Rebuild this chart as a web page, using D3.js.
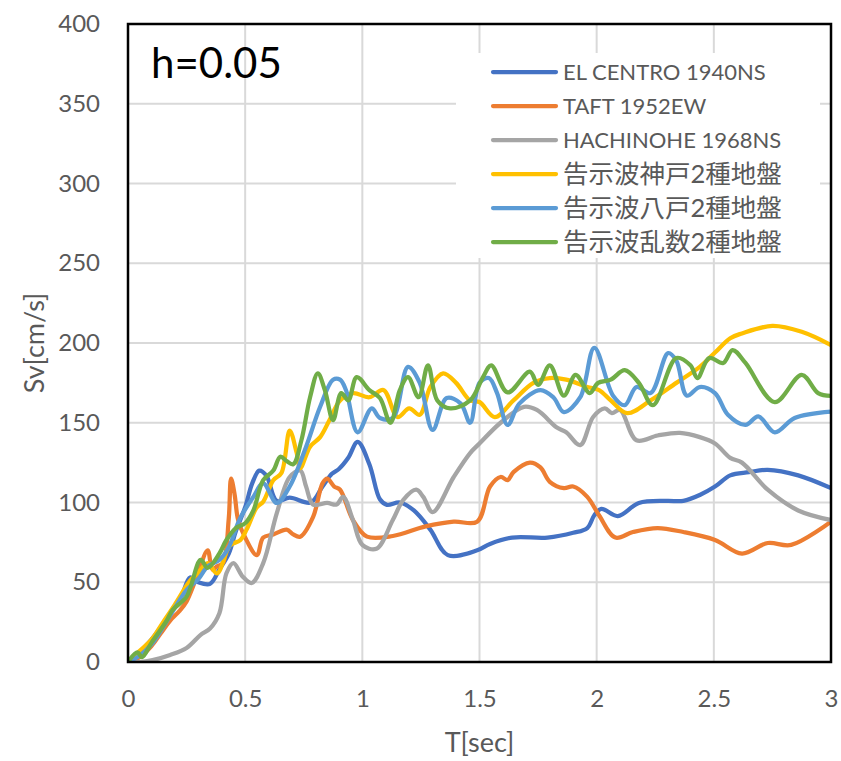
<!DOCTYPE html>
<html>
<head>
<meta charset="utf-8">
<script src="https://cdn.jsdelivr.net/npm/d3@7"></script>
<style>
  html, body { margin: 0; padding: 0; background: #fff; }
  svg { display: block; }
</style>
</head>
<body>
<div id="chart"></div>
<script>
// Velocity response spectra, damping h = 0.05
const elCentroT  = [0, 0.05, 0.1, 0.15, 0.19, 0.23, 0.265, 0.3, 0.35, 0.39, 0.43, 0.46, 0.5, 0.53, 0.56, 0.59, 0.635, 0.69, 0.78, 0.83, 0.87, 0.9, 0.94, 0.98, 1.03, 1.075, 1.105, 1.16, 1.22, 1.29, 1.365, 1.49, 1.545, 1.64, 1.79, 1.9, 1.96, 1.99, 2.02, 2.09, 2.18, 2.3, 2.37, 2.44, 2.505, 2.57, 2.65, 2.73, 2.86, 3.0];
const elCentroSv = [0, 6, 14, 24, 33, 42, 53, 50, 49, 58, 68, 82, 97, 112, 120, 117, 101, 103, 100, 110, 118, 121, 128, 138, 124, 102, 98.5, 100, 95, 83, 67, 70, 74, 78, 78, 81, 84, 92, 96, 91.5, 99.7, 101, 101, 104.7, 110, 117, 119, 120.5, 117, 109];

const taftT  = [0, 0.05, 0.1, 0.14, 0.18, 0.22, 0.25, 0.29, 0.34, 0.36, 0.38, 0.405, 0.43, 0.44, 0.455, 0.47, 0.5, 0.55, 0.577, 0.62, 0.677, 0.705, 0.735, 0.79, 0.83, 0.85, 0.88, 0.905, 0.96, 1.02, 1.13, 1.27, 1.39, 1.49, 1.545, 1.59, 1.62, 1.645, 1.715, 1.76, 1.8, 1.86, 1.9, 1.96, 2.01, 2.08, 2.155, 2.26, 2.37, 2.505, 2.62, 2.73, 2.83, 3.0];
const taftSv = [0, 3, 10, 18, 26, 32, 38, 52, 70, 58, 60, 62, 90, 115, 105, 89, 78, 67, 78, 80, 83, 80, 78.6, 91, 112, 115, 110, 108, 89, 78.6, 79, 85, 88, 88, 110, 116, 114, 119, 125, 122, 113, 109, 110, 103.5, 92, 78, 81.5, 84, 81.5, 76.5, 68, 74.6, 73.4, 88];

const hachinoheT  = [0, 0.05, 0.1, 0.18, 0.25, 0.31, 0.35, 0.39, 0.42, 0.45, 0.49, 0.528, 0.577, 0.635, 0.69, 0.735, 0.76, 0.79, 0.85, 0.89, 0.918, 0.96, 1.0, 1.06, 1.13, 1.175, 1.23, 1.26, 1.3, 1.39, 1.46, 1.5, 1.59, 1.69, 1.745, 1.83, 1.87, 1.93, 1.985, 2.035, 2.065, 2.1, 2.17, 2.26, 2.355, 2.44, 2.505, 2.57, 2.62, 2.73, 2.86, 3.0];
const hachinoheSv = [0, 0, 1, 4.4, 8.8, 17, 21, 30.6, 55.6, 62, 53.5, 49.5, 62, 93.3, 116, 120, 110, 98.7, 99.7, 98.7, 103.5, 89, 73.4, 71, 89, 101.6, 108, 103.5, 94, 116, 131, 137, 150, 160, 158, 147, 144, 136, 153.6, 159, 156, 158, 139, 142, 143.6, 141, 137, 128, 125, 108, 95, 89];

const kobeT  = [0, 0.05, 0.1, 0.15, 0.2, 0.265, 0.3, 0.34, 0.38, 0.435, 0.48, 0.506, 0.55, 0.577, 0.62, 0.655, 0.69, 0.72, 0.735, 0.777, 0.82, 0.86, 0.905, 0.96, 1.03, 1.09, 1.15, 1.2, 1.245, 1.29, 1.345, 1.4, 1.46, 1.5, 1.565, 1.645, 1.73, 1.8, 1.87, 1.96, 2.01, 2.06, 2.13, 2.23, 2.34, 2.44, 2.505, 2.57, 2.62, 2.75, 2.875, 3.0];
const kobeSv = [0, 7, 14, 25, 36, 51, 56, 62, 55.6, 73, 76.5, 83, 97, 100.5, 114, 118.6, 145, 131, 121.6, 135, 141, 151.7, 164, 168.6, 166, 170.5, 153.6, 159, 155, 172.4, 181, 175, 164, 163, 153.6, 164, 175, 178, 177, 172.4, 170.5, 164, 156, 164, 175, 185, 194, 203, 206, 210.7, 207, 198.7];

const hachinoheNotifT  = [0, 0.05, 0.1, 0.15, 0.2, 0.25, 0.3, 0.34, 0.39, 0.43, 0.478, 0.535, 0.577, 0.635, 0.69, 0.76, 0.82, 0.875, 0.905, 0.93, 0.98, 1.04, 1.075, 1.13, 1.195, 1.245, 1.3, 1.36, 1.42, 1.46, 1.5, 1.54, 1.575, 1.62, 1.67, 1.76, 1.815, 1.86, 1.93, 1.99, 2.07, 2.12, 2.17, 2.23, 2.305, 2.34, 2.385, 2.44, 2.505, 2.56, 2.635, 2.69, 2.76, 2.845, 3.0];
const hachinoheNotifSv = [0, 4, 11, 22, 34, 45, 52, 60, 64, 72, 90, 103.5, 112, 99.7, 110, 135, 160, 177, 177, 170.5, 144, 159, 153, 153, 185, 175, 145.5, 165.5, 162, 150, 175, 178, 168.6, 148.6, 162, 170.5, 166, 156.7, 166, 197, 167, 161, 172.4, 168.6, 193.7, 189, 167, 172.4, 168.6, 155, 148.6, 154, 144, 153, 157];

const randomT  = [0, 0.04, 0.06, 0.1, 0.165, 0.19, 0.25, 0.31, 0.34, 0.39, 0.42, 0.46, 0.5, 0.535, 0.577, 0.62, 0.65, 0.677, 0.705, 0.74, 0.777, 0.81, 0.84, 0.875, 0.91, 0.94, 0.976, 1.03, 1.075, 1.12, 1.16, 1.195, 1.24, 1.28, 1.32, 1.375, 1.46, 1.515, 1.55, 1.62, 1.715, 1.75, 1.8, 1.86, 1.91, 1.97, 2.006, 2.06, 2.12, 2.18, 2.24, 2.34, 2.4, 2.43, 2.48, 2.54, 2.58, 2.635, 2.76, 2.875, 2.945, 3.0];
const randomSv = [0, 6, 3, 12, 26, 32.6, 41, 64, 59, 68, 76.5, 84, 87, 95, 114, 120, 128.7, 126, 124, 139, 166, 181, 170.5, 151.7, 168.6, 164, 178.6, 170.5, 165.5, 150, 170.5, 178.6, 166, 186, 164, 159, 164, 178.6, 186, 169, 182, 173.7, 186, 167, 180, 168.6, 175, 177, 183, 175, 161, 190.6, 186, 178, 190.6, 187.5, 195.6, 187.5, 163, 180, 168.6, 166.8];

const seriesNames  = ["EL CENTRO 1940NS", "TAFT 1952EW", "HACHINOHE 1968NS", "告示波神戸2種地盤", "告示波八戸2種地盤", "告示波乱数2種地盤"];
const seriesColors = ["#4472C4", "#ED7D31", "#A5A5A5", "#FFC000", "#5B9BD5", "#70AD47"];
const seriesT  = [elCentroT, taftT, hachinoheT, kobeT, hachinoheNotifT, randomT];
const seriesSv = [elCentroSv, taftSv, hachinoheSv, kobeSv, hachinoheNotifSv, randomSv];

const xTicks = [0, 0.5, 1, 1.5, 2, 2.5, 3];
const yTicks = [0, 50, 100, 150, 200, 250, 300, 350, 400];

const W = 841, H = 761;
const plot = { left: 128, top: 24, right: 831, bottom: 662 };
const textGrey = "#595959";
const latin = "Lato, 'Noto Sans CJK JP', sans-serif";

const svg = d3.select("#chart").append("svg")
  .attr("width", W).attr("height", H)
  .attr("viewBox", `0 0 ${W} ${H}`);

const x = d3.scaleLinear().domain([0, 3]).range([plot.left, plot.right]);
const y = d3.scaleLinear().domain([0, 400]).range([plot.bottom, plot.top]);

// gridlines
const grid = svg.append("g").attr("stroke", "#D9D9D9").attr("stroke-width", 2);
grid.selectAll("line.v").data(xTicks.slice(1, -1)).join("line")
  .attr("x1", d => x(d)).attr("x2", d => x(d))
  .attr("y1", plot.top).attr("y2", plot.bottom);
grid.selectAll("line.h").data(yTicks.slice(1, -1)).join("line")
  .attr("x1", plot.left).attr("x2", plot.right)
  .attr("y1", d => y(d)).attr("y2", d => y(d));

// axes (labels only; the frame is drawn separately)
const yAxis = svg.append("g")
  .attr("transform", `translate(${plot.left},0)`)
  .call(d3.axisLeft(y).tickValues(yTicks).tickSize(0).tickPadding(28).tickFormat(d3.format("d")));
const xAxis = svg.append("g")
  .attr("transform", `translate(0,${plot.bottom})`)
  .call(d3.axisBottom(x).tickValues(xTicks).tickSize(0).tickPadding(28).tickFormat(d => String(d)));
[yAxis, xAxis].forEach(a => {
  a.select(".domain").remove();
  a.selectAll("text").attr("fill", textGrey).style("font-family", latin).style("font-size", "24px");
});

// series lines
const clipId = "plot-clip";
svg.append("clipPath").attr("id", clipId).append("rect")
  .attr("x", plot.left).attr("y", plot.top)
  .attr("width", plot.right - plot.left).attr("height", plot.bottom - plot.top);

const line = d3.line()
  .x(d => x(d[0])).y(d => y(d[1]))
  .curve(d3.curveCatmullRom.alpha(0.5));

const lines = svg.append("g").attr("clip-path", `url(#${clipId})`);
seriesNames.forEach((name, i) => {
  const pts = seriesT[i].map((t, k) => [t, seriesSv[i][k]]);
  lines.append("path")
    .datum(pts)
    .attr("d", line)
    .attr("fill", "none")
    .attr("stroke", seriesColors[i])
    .attr("stroke-width", 4.25)
    .attr("stroke-linejoin", "round")
    .attr("stroke-linecap", "round");
});

// frame
svg.append("rect")
  .attr("x", plot.left).attr("y", plot.top)
  .attr("width", plot.right - plot.left).attr("height", plot.bottom - plot.top)
  .attr("fill", "none").attr("stroke", "#000").attr("stroke-width", 2.5);

// damping label
svg.append("text")
  .attr("x", 151).attr("y", 78)
  .style("font-family", latin).style("font-size", "42px")
  .attr("fill", "#000")
  .text("h=0.05");

// legend
const legend = svg.append("g");
legend.append("rect")
  .attr("x", 456).attr("y", 53).attr("width", 364).attr("height", 205)
  .attr("fill", "#fff");
const rowY = d3.scaleLinear().domain([0, 5]).range([72, 242]);
const isCJK = s => /[\u3000-\u9fff]/.test(s);
seriesNames.forEach((name, i) => {
  const g = legend.append("g").attr("transform", `translate(0,${rowY(i)})`);
  g.append("line")
    .attr("x1", 493).attr("x2", 556).attr("y1", 0).attr("y2", 0)
    .attr("stroke", seriesColors[i]).attr("stroke-width", 4.25).attr("stroke-linecap", "round");
  g.append("text")
    .attr("x", 563).attr("y", 0).attr("dy", "0.36em")
    .attr("fill", textGrey)
    .style("font-family", latin).style("font-size", isCJK(name) ? "25.5px" : "22px")
    .text(name);
});

// axis titles
svg.append("text")
  .attr("x", (plot.left + plot.right) / 2).attr("y", 752)
  .attr("text-anchor", "middle").attr("fill", textGrey)
  .style("font-family", latin).style("font-size", "27px")
  .text("T[sec]");
svg.append("text")
  .attr("transform", `translate(44,${(plot.top + plot.bottom) / 2}) rotate(-90)`)
  .attr("text-anchor", "middle").attr("fill", textGrey)
  .style("font-family", latin).style("font-size", "27px")
  .text("Sv[cm/s]");
</script>
</body>
</html>
